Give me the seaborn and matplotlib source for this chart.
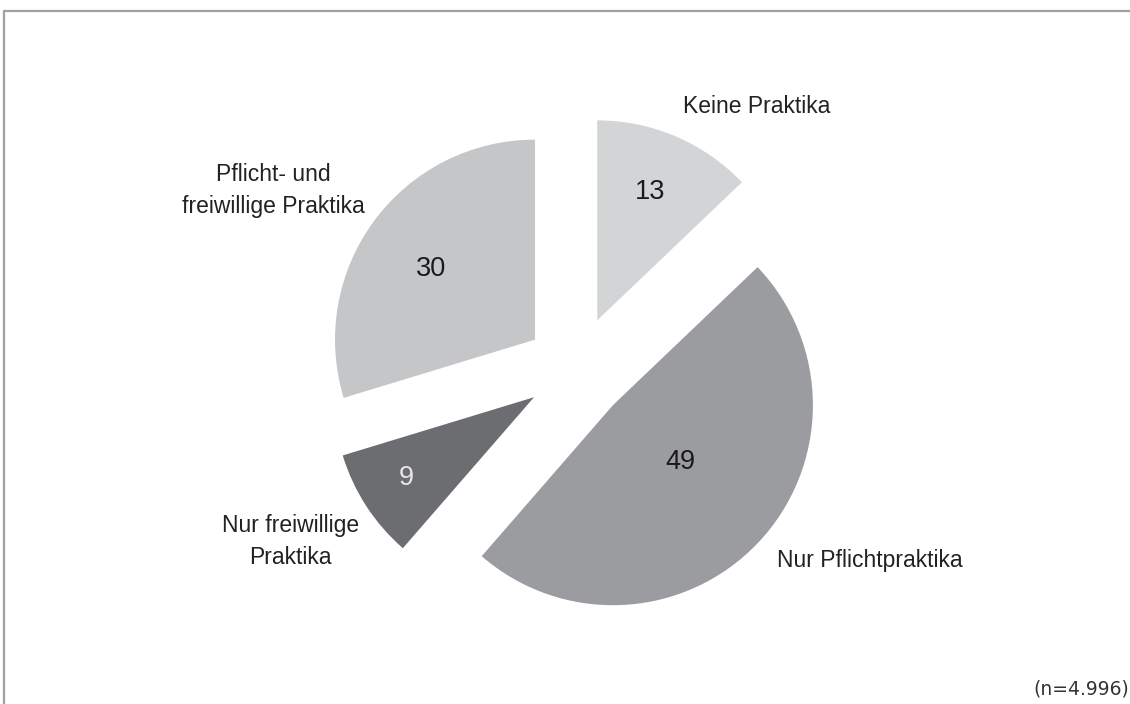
import matplotlib
matplotlib.use("Agg")
import matplotlib.pyplot as plt
from matplotlib.lines import Line2D
import seaborn as sns
import numpy as np

# Data
categories = ["Keine Praktika", "Nur Pflichtpraktika", "Nur freiwillige\nPraktika",
              "Pflicht- und\nfreiwillige Praktika"]
values = [13, 49, 9, 30]
sample_note = "(n=4.996)"

# Styling
colors = ["#d3d4d6", "#9b9ca0", "#6c6d71", "#c5c6c8"]
value_colors = ["#1a1a1a", "#1a1a1a", "#e8e8e8", "#1a1a1a"]
value_dist = [0.695, 0.441, 0.754, 0.63]
value_shift_deg = [0.85, 3.86, -0.78, 2.17]
label_dist = [1.151, 1.129, 1.134, 1.134]
label_shift_deg = [1.43, 0.17, 6.5, -4.67]
explode = [0.27, 0.255, 0.25, 0.255]
frame_color = "#a0a1a5"

sns.set_theme(style="white")
plt.rcParams["font.family"] = ["Liberation Sans", "DejaVu Sans"]

W, H = 1130, 704
fig = plt.figure(figsize=(W / 100, H / 100), dpi=100)
fig.patch.set_facecolor("white")

# pie radius and centre in pixels
R = 200
cx, cy = 576, H - 370

ax = fig.add_axes([0, 0, 1, 1])
wedges, texts = ax.pie(
    values, labels=categories, colors=colors, startangle=90, counterclock=False,
    explode=explode, labeldistance=1.14,
    textprops=dict(fontsize=16.5, color="#222222"),
    wedgeprops=dict(linewidth=0),
)
ax.set_xlim(-cx / R, (W - cx) / R)
ax.set_ylim(-cy / R, (H - cy) / R)
ax.set_aspect("equal")
ax.axis("off")

# category labels: placed around each wedge's own (exploded) centre
for w, t, d, s in zip(wedges, texts, label_dist, label_shift_deg):
    ang = np.deg2rad((w.theta1 + w.theta2) / 2 + s)
    t.set_position((w.center[0] + d * w.r * np.cos(ang),
                    w.center[1] + d * w.r * np.sin(ang)))
    t.set_multialignment("center")
    t.set_linespacing(1.5)

# value labels inside the wedges
for w, v, c, d, s in zip(wedges, values, value_colors, value_dist, value_shift_deg):
    ang = np.deg2rad((w.theta1 + w.theta2) / 2 + s)
    x = w.center[0] + d * w.r * np.cos(ang)
    y = w.center[1] + d * w.r * np.sin(ang)
    ax.text(x, y, str(v), ha="center", va="center", fontsize=19.5, color=c)

# sample size note
fig.text(1129 / W, 1 - 689 / H, sample_note, ha="right", va="center",
         fontsize=13.5, color="#333333", family=["DejaVu Sans"])

# frame lines on top and left
fig.add_artist(Line2D([4 / W, 1], [1 - 11 / H, 1 - 11 / H], transform=fig.transFigure,
                      color=frame_color, lw=1.6))
fig.add_artist(Line2D([4 / W, 4 / W], [0, 1 - 11 / H], transform=fig.transFigure,
                      color=frame_color, lw=1.6))

fig.savefig("out.png", dpi=100, facecolor="white")
